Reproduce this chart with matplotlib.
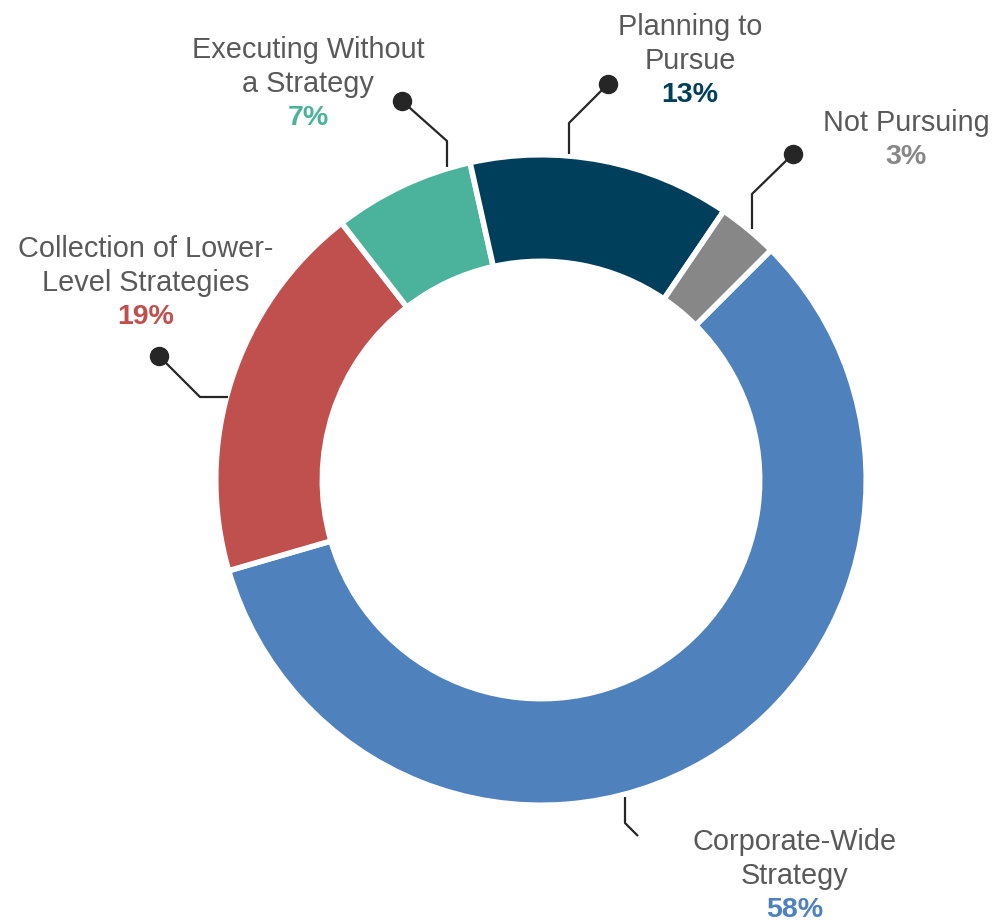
import numpy as np
import matplotlib.pyplot as plt

plt.rcParams["font.family"] = ["Liberation Sans", "DejaVu Sans"]

# Data (clockwise from upper right)
labels = ["Corporate-Wide\nStrategy", "Collection of Lower-\nLevel Strategies",
          "Executing Without\na Strategy", "Planning to\nPursue", "Not Pursuing"]
values = [58, 19, 7, 13, 3]
colors = ["#4F81BD", "#C0504D", "#4BB39B", "#003F5C", "#878787"]

W, H = 992, 921
CX, CY, R = 541, 480, 323


def px(x, y):
    # pixel position -> data coordinates (ring radius = 1)
    return (x - CX) / R, (CY - y) / R


fig = plt.figure(figsize=(W / 100, H / 100), dpi=100)
ax = fig.add_axes([0, 0, 1, 1])
ax.pie(values, colors=colors, startangle=45, counterclock=False, radius=1.007,
       wedgeprops=dict(width=0.33, edgecolor="white", linewidth=4))
ax.set_xlim(-CX / R, (W - CX) / R)
ax.set_ylim((CY - H) / R, CY / R)
ax.set_aspect("equal")
ax.axis("off")

# leader lines (pixel coords), dot at the last point if wanted
leaders = [
    ([(625, 797), (625, 823), (638, 836)], False),
    ([(228, 397), (200, 397), (159, 356)], True),
    ([(447, 167), (447, 141), (402, 101)], True),
    ([(569, 154), (569, 123), (608, 84)], True),
    ([(752, 229), (752, 194), (793, 154)], True),
]
# position of percent text (pixel coords)
pct_pos = [(795, 910), (146, 317), (308, 118), (690, 95), (906, 157)]

for (pts, dot), (lx, ly), lab, val, col in zip(leaders, pct_pos, labels, values, colors):
    xs, ys = zip(*[px(*p) for p in pts])
    ax.plot(xs, ys, color="#262626", lw=1.6, solid_capstyle="butt")
    if dot:
        ax.plot(xs[-1], ys[-1], "o", color="#262626", ms=13)
    tx, ty = px(lx, ly)
    ax.text(tx, ty, f"{val}%", color=col, fontsize=20.5, fontweight="bold",
            ha="center", va="center")
    lines = lab.split("\n")[::-1]
    for i, line in enumerate(lines):
        x2, y2 = px(lx, ly - 34 * (i + 1))
        ax.text(x2, y2, line, color="#595959", fontsize=20.8,
                ha="center", va="center")

fig.savefig("out.png", dpi=100)
